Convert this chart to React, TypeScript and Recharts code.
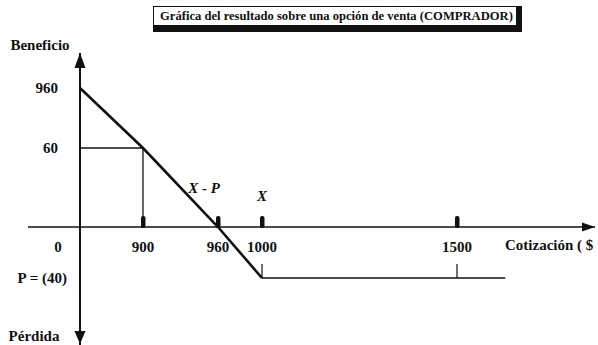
import { LineChart, Line, XAxis, YAxis, ReferenceLine, ReferenceDot } from 'recharts';

// Buyer of a put: strike X = 1000, premium P = 40
const PRICE_TICKS = [900, 960, 1000, 1500];
const PRICE_LABELS = ['900', '960', '1000', '1500'];
const STRIKE_MARKS = [1000, 1500]; // small marks on the loss line

const PROFIT_TICKS = [960, 60, 0, -40];
const PROFIT_LABELS = ['960', '60', '0', 'P = (40)'];

const PAYOFF_DOWN = [
  { price: 0, result: 960 },
  { price: 900, result: 60 },
  { price: 960, result: 0 },
  { price: 1000, result: -40 },
];
const PAYOFF_FLAT = [
  { price: 1000, result: -40 },
  { price: 1570, result: -40 },
];

// The drawing is schematic, not to scale: each axis is piecewise linear.
// knots = axis values, stops = where they sit along the axis (0..1)
const X_KNOTS = [-200, 0, 900, 960, 1000, 1500, 1700];
const X_STOPS = [0, 0.0917, 0.2028, 0.3351, 0.4127, 0.7566, 1];
const Y_KNOTS = [-110, -40, 0, 60, 960, 1200];
const Y_STOPS = [0, 0.2295, 0.4041, 0.6747, 0.8801, 1];

const FONT = '"Liberation Serif", "DejaVu Serif", serif';
const INK = '#111';

function interp(v: number, knots: number[], stops: number[]) {
  let i = 0;
  while (i < knots.length - 2 && v > knots[i + 1]) i++;
  const t = (v - knots[i]) / (knots[i + 1] - knots[i]);
  return stops[i] + t * (stops[i + 1] - stops[i]);
}
const sx = (price: number) => interp(price, X_KNOTS, X_STOPS);
const sy = (result: number) => interp(result, Y_KNOTS, Y_STOPS);

const txt = {
  fontFamily: FONT,
  fontSize: 15,
  fontWeight: 700,
  fill: INK,
  dominantBaseline: 'central',
} as const;

const ArrowUp = ({ cx, cy }: any) => (
  <path d={`M${cx},${cy} L${cx - 5.5},${cy + 15} L${cx + 5.5},${cy + 15} Z`} fill={INK} />
);
const ArrowDown = ({ cx, cy }: any) => (
  <path d={`M${cx},${cy - 1} L${cx - 5.5},${cy - 14} L${cx + 5.5},${cy - 14} Z`} fill={INK} />
);
const ArrowRight = ({ cx, cy }: any) => (
  <path d={`M${cx},${cy} L${cx - 13},${cy - 4.5} L${cx - 13},${cy + 4.5} Z`} fill={INK} />
);

function PriceTick({ cx, cy, label }: any) {
  return (
    <g>
      <rect x={cx - 2} y={cy - 11} width={4.5} height={12} rx={2} fill={INK} />
      <text {...txt} x={cx} y={cy + 20} textAnchor="middle">
        {label}
      </text>
    </g>
  );
}

function ProfitTick({ cx, cy, label, value }: any) {
  if (value === 0) {
    return (
      <text {...txt} x={cx - 22} y={cy + 20} textAnchor="middle">
        {label}
      </text>
    );
  }
  const dx = value < 0 ? 13 : 22;
  return (
    <text {...txt} x={cx - dx} y={cy} textAnchor="end">
      {label}
    </text>
  );
}

export default function App() {
  return (
    <div style={{ position: 'absolute', left: 0, top: 0, width: 598, height: 345, background: '#fff' }}>
      <div
        style={{
          position: 'absolute',
          left: 153,
          top: 6,
          width: 356,
          height: 18,
          borderTop: `1px solid ${INK}`,
          borderLeft: `1px solid ${INK}`,
          borderRight: `6px solid ${INK}`,
          borderBottom: `7px solid ${INK}`,
          fontFamily: FONT,
          fontWeight: 700,
          fontSize: 12.6,
          lineHeight: '18px',
          paddingLeft: 6,
          color: INK,
          whiteSpace: 'nowrap',
        }}
      >
        Gráfica del resultado sobre una opción de venta (COMPRADOR)
      </div>
      <LineChart width={598} height={345} margin={{ top: 53, right: 3, bottom: 0, left: 28 }}>
        <XAxis type="number" dataKey={(d: any) => sx(d.price)} domain={[0, 1]} hide />
        <YAxis type="number" domain={[0, 1]} hide />

        {/* axes */}
        <ReferenceLine y={sy(0)} stroke={INK} strokeWidth={1.5} />
        <ReferenceLine x={sx(0)} stroke={INK} strokeWidth={2} />
        <ReferenceDot x={sx(0)} y={sy(1200)} shape={ArrowUp} />
        <ReferenceDot x={sx(0)} y={sy(-110)} shape={ArrowDown} />
        <ReferenceDot x={sx(1700)} y={sy(0)} shape={ArrowRight} />

        {/* guide for the 900 / 60 point */}
        <ReferenceLine
          segment={[{ x: sx(0), y: sy(60) }, { x: sx(900), y: sy(60) }]}
          stroke={INK}
          strokeWidth={1.3}
        />
        <ReferenceLine
          segment={[{ x: sx(900), y: sy(60) }, { x: sx(900), y: sy(0) }]}
          stroke={INK}
          strokeWidth={1.3}
        />

        <Line
          data={PAYOFF_DOWN}
          dataKey={(d: any) => sy(d.result)}
          stroke={INK}
          strokeWidth={2.6}
          dot={false}
          isAnimationActive={false}
        />
        <Line
          data={PAYOFF_FLAT}
          dataKey={(d: any) => sy(d.result)}
          stroke={INK}
          strokeWidth={1.6}
          dot={false}
          isAnimationActive={false}
        />

        {PRICE_TICKS.map((p, i) => (
          <ReferenceDot
            key={`p${p}`}
            x={sx(p)}
            y={sy(0)}
            shape={(props: any) => <PriceTick {...props} label={PRICE_LABELS[i]} />}
          />
        ))}
        {STRIKE_MARKS.map((p) => (
          <ReferenceDot
            key={`s${p}`}
            x={sx(p)}
            y={sy(-40)}
            shape={({ cx, cy }: any) => (
              <line x1={cx} x2={cx} y1={cy - 14} y2={cy} stroke={INK} strokeWidth={1.2} />
            )}
          />
        ))}
        {PROFIT_TICKS.map((v, i) => (
          <ReferenceDot
            key={`v${v}`}
            x={sx(0)}
            y={sy(v)}
            shape={(props: any) => <ProfitTick {...props} value={v} label={PROFIT_LABELS[i]} />}
          />
        ))}

        {/* axis titles and annotations */}
        <ReferenceDot
          x={sx(0)}
          y={sy(1200)}
          shape={({ cx, cy }: any) => (
            <text {...txt} x={cx - 40} y={cy - 8} textAnchor="middle">
              Beneficio
            </text>
          )}
        />
        <ReferenceDot
          x={sx(0)}
          y={sy(-110)}
          shape={({ cx, cy }: any) => (
            <text {...txt} x={cx - 46} y={cy - 9} textAnchor="middle">
              Pérdida
            </text>
          )}
        />
        <ReferenceDot
          x={sx(1700)}
          y={sy(0)}
          shape={({ cx, cy }: any) => (
            <text {...txt} x={cx - 90} y={cy + 18}>
              Cotización ( $
            </text>
          )}
        />
        <ReferenceDot
          x={sx(960)}
          y={sy(0)}
          shape={({ cx, cy }: any) => (
            <text {...txt} x={cx - 14} y={cy - 39} textAnchor="middle" fontStyle="italic">
              X - P
            </text>
          )}
        />
        <ReferenceDot
          x={sx(1000)}
          y={sy(0)}
          shape={({ cx, cy }: any) => (
            <text {...txt} x={cx} y={cy - 31} textAnchor="middle" fontStyle="italic">
              X
            </text>
          )}
        />
      </LineChart>
    </div>
  );
}
